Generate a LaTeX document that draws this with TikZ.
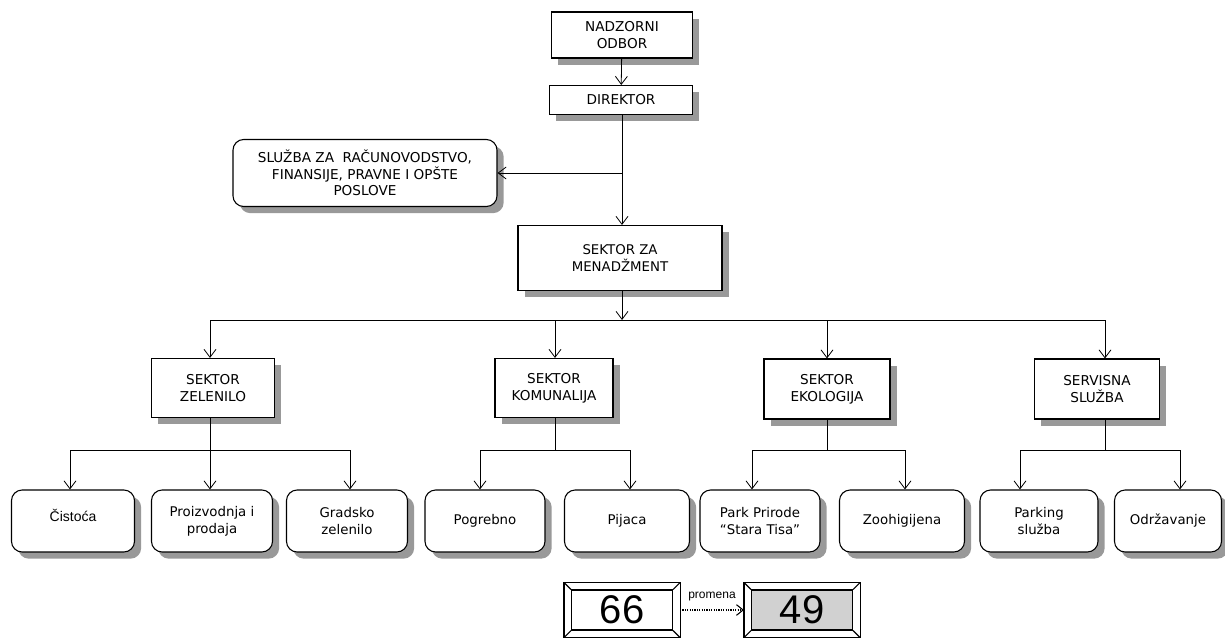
\documentclass[tikz,border=0pt]{standalone}
\usepackage{fontspec}
\setmainfont{DejaVu Sans}
\newfontfamily\arialf{Liberation Sans}
\usetikzlibrary{arrows.meta,shadows}
\begin{document}
\begin{tikzpicture}[x=0.75pt,y=-0.75pt,
  shd/.style={drop shadow={shadow xshift=5pt,shadow yshift=-5pt,fill=black!40,opacity=1}},
  sq/.style={draw,thick,fill=white,shd,align=center,font=\fontsize{10.2}{12.5}\selectfont,inner sep=2pt},
  rb/.style={sq,rounded corners=8pt},
  ar/.style={-{Straight Barb[length=6pt,width=9pt]},semithick},
  ln/.style={semithick}]
\useasboundingbox (0,0) rectangle (1225,639);
% top chain
\node[sq,minimum width=141*0.75pt,minimum height=46*0.75pt] (nad) at (622,35) {NADZORNI\\ODBOR};
\node[sq,minimum width=143*0.75pt,minimum height=29*0.75pt] (dir) at (621,100) {DIREKTOR};
\node[rb,minimum width=264*0.75pt,minimum height=67*0.75pt] (slu) at (365,173) {SLUŽBA ZA \ RAČUNOVODSTVO,\\FINANSIJE, PRAVNE I OPŠTE\\POSLOVE};
\node[sq,minimum width=204*0.75pt,minimum height=65*0.75pt,font=\fontsize{10}{13}\selectfont] (men) at (620,258) {SEKTOR ZA\\MENADŽMENT};
% sectors
\node[sq,minimum width=123*0.75pt,minimum height=59*0.75pt] (zel) at (213,388) {SEKTOR\\ZELENILO};
\node[sq,minimum width=118*0.75pt,minimum height=59*0.75pt] (kom) at (554,388) {SEKTOR\\KOMUNALIJA};
\node[sq,minimum width=126*0.75pt,minimum height=60*0.75pt] (eko) at (827,389) {SEKTOR\\EKOLOGIJA};
\node[sq,minimum width=125*0.75pt,minimum height=60*0.75pt] (ser) at (1097,389) {SERVISNA\\SLUŽBA};
% leaf boxes
\tikzset{leaf/.style={rb,minimum height=62*0.75pt,font=\fontsize{10}{13}\selectfont}}
\node[leaf,minimum width=123*0.75pt,font=\arialf\fontsize{10.5}{12}\selectfont] (cis) at (73,521) {\raisebox{9pt}{Čistoća}};
\node[leaf,minimum width=121*0.75pt] (pro) at (212,521) {Proizvodnja i\\prodaja};
\node[leaf,minimum width=121*0.75pt] (gra) at (347,521) {Gradsko\\zelenilo};
\node[leaf,minimum width=120*0.75pt] (pog) at (485,521) {Pogrebno};
\node[leaf,minimum width=125*0.75pt] (pij) at (627,521) {Pijaca};
\node[leaf,minimum width=120*0.75pt] (par) at (760,521) {Park Prirode\\“Stara Tisa”};
\node[leaf,minimum width=125*0.75pt] (zoo) at (902,521) {Zoohigijena};
\node[leaf,minimum width=118*0.75pt] (prk) at (1039,521) {Parking\\služba};
\node[leaf,minimum width=107*0.75pt] (odr) at (1168,521) {Održavanje};
% connectors top
\draw[ar] (nad) -- (dir);
\coordinate (j1) at (622,173);
\draw[ln] (dir.south -| j1) -- (j1);
\draw[ar] (j1) -- (men.north -| j1);
\draw[ar] (j1) -- (slu.east);
% bus
\coordinate (b1) at (210,320);
\coordinate (b2) at (1105,320);
\coordinate (bm) at (622,320);
\draw[ar] (men.south -| bm) -- (bm);
\draw[ln] (b1) -- (b2);
\draw[ar] (b1) -- (b1 |- zel.north);
\draw[ar] (555,320) -- (555,0 |- kom.north);
\draw[ar] (827,320) -- (827,0 |- eko.north);
\draw[ar] (b2) -- (b2 |- ser.north);
% sub buses
\coordinate (z0) at (210,450);
\draw[ln] (zel.south -| z0) -- (z0);
\draw[ln] (70,450) -- (350,450);
\draw[ar] (70,450) -- (70,0 |- cis.north);
\draw[ar] (z0) -- (210,0 |- pro.north);
\draw[ar] (350,450) -- (350,0 |- gra.north);
\coordinate (k0) at (555,450);
\draw[ln] (kom.south -| k0) -- (k0);
\draw[ln] (480,450) -- (630,450);
\draw[ar] (480,450) -- (480,0 |- pog.north);
\draw[ar] (630,450) -- (630,0 |- pij.north);
\coordinate (e0) at (827,450);
\draw[ln] (eko.south -| e0) -- (e0);
\draw[ln] (752,450) -- (905,450);
\draw[ar] (752,450) -- (752,0 |- par.north);
\draw[ar] (905,450) -- (905,0 |- zoo.north);
\coordinate (s0) at (1105,450);
\draw[ln] (ser.south -| s0) -- (s0);
\draw[ln] (1020,450) -- (1180,450);
\draw[ar] (1020,450) -- (1020,0 |- prk.north);
\draw[ar] (1180,450) -- (1180,0 |- odr.north);
% bottom counters
\tikzset{frm/.style={draw,thick,minimum width=101*0.75pt,minimum height=40*0.75pt,font=\arialf\fontsize{30}{30}\selectfont,inner sep=0pt}}
\node[frm] (n66) at (622,610) {66};
\node[frm,fill=black!18] (n49) at (802,610) {49};
\foreach \n in {n66,n49}{
  \draw[thick] ([shift={(-7,-7)}]\n.north west) rectangle ([shift={(7,7)}]\n.south east);
  \draw[thick] ([shift={(-7,-7)}]\n.north west) -- (\n.north west)
               ([shift={(7,-7)}]\n.north east) -- (\n.north east)
               ([shift={(-7,7)}]\n.south west) -- (\n.south west)
               ([shift={(7,7)}]\n.south east) -- (\n.south east);
}
\draw[densely dotted,thick,-{Straight Barb[length=5pt,width=8pt]}] ([xshift=7*0.75pt]n66.east) -- node[above=3pt,font=\arialf\fontsize{9}{10}\selectfont]{promena} ([xshift=-7*0.75pt]n49.west);
\end{tikzpicture}
\end{document}
